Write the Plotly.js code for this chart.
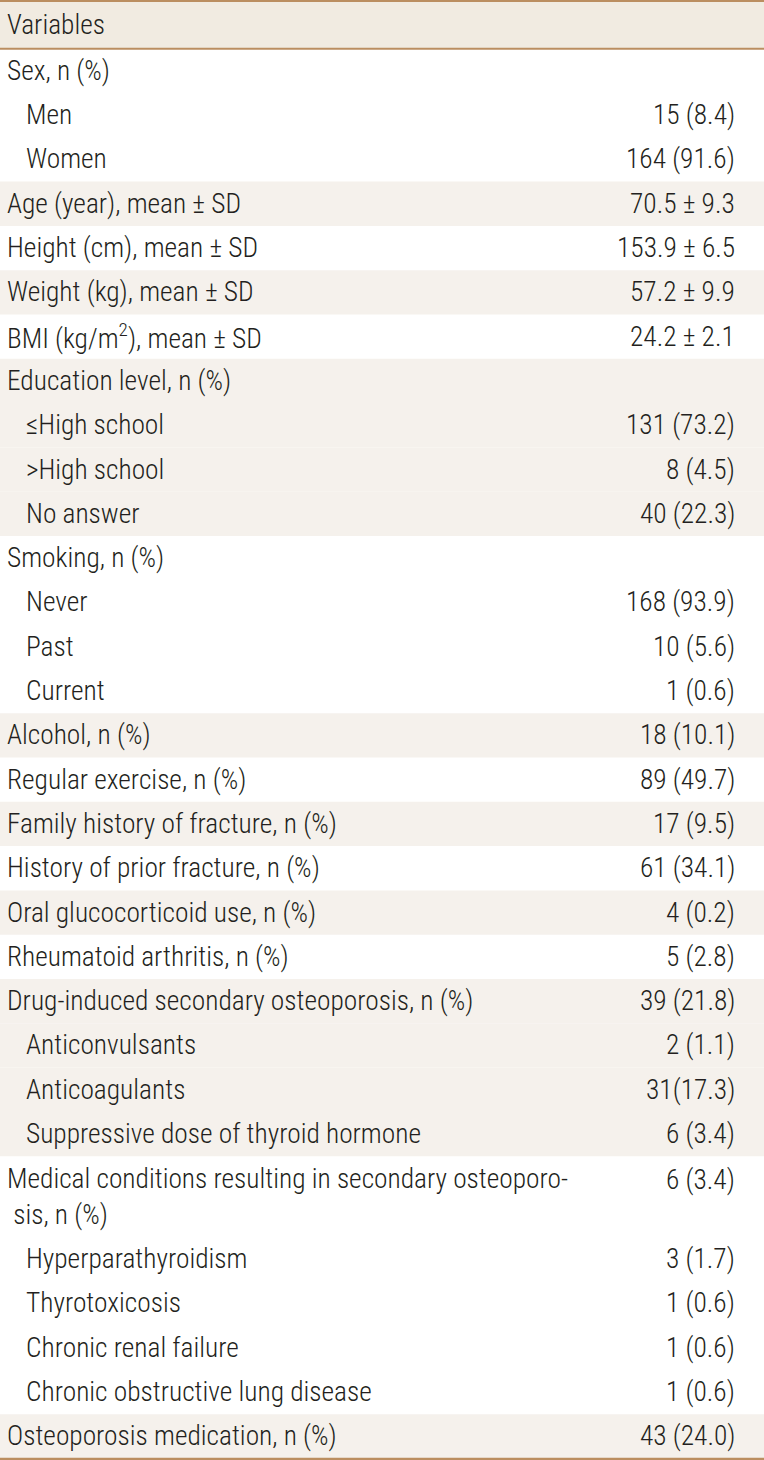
<!DOCTYPE html>
<html>
<head>
<meta charset="utf-8">
<script src="https://cdn.plot.ly/plotly-3.0.1.min.js"></script>
<style>html,body{margin:0;padding:0;background:#fff;}#chart{width:764px;height:1460px;}</style>
</head>
<body>
<div id="chart"></div>
<script>
// ---- data ----
const headerLabel = "Variables";
const labels = [
  "Sex, n (%)", "Men", "Women",
  "Age (year), mean ± SD",
  "Height (cm), mean ± SD",
  "Weight (kg), mean ± SD",
  "BMI (kg/m<sup>2</sup>), mean ± SD",
  "Education level, n (%)", "≤High school", ">High school", "No answer",
  "Smoking, n (%)", "Never", "Past", "Current",
  "Alcohol, n (%)",
  "Regular exercise, n (%)",
  "Family history of fracture, n (%)",
  "History of prior fracture, n (%)",
  "Oral glucocorticoid use, n (%)",
  "Rheumatoid arthritis, n (%)",
  "Drug-induced secondary osteoporosis, n (%)", "Anticonvulsants", "Anticoagulants", "Suppressive dose of thyroid hormone",
  "Medical conditions resulting in secondary osteoporo-<br> sis, n (%)", "Hyperparathyroidism", "Thyrotoxicosis", "Chronic renal failure", "Chronic obstructive lung disease",
  "Osteoporosis medication, n (%)"
];
const values = [
  "", "15 (8.4)", "164 (91.6)",
  "70.5 ± 9.3",
  "153.9 ± 6.5",
  "57.2 ± 9.9",
  "24.2 ± 2.1",
  "", "131 (73.2)", "8 (4.5)", "40 (22.3)",
  "", "168 (93.9)", "10 (5.6)", "1 (0.6)",
  "18 (10.1)",
  "89 (49.7)",
  "17 (9.5)",
  "61 (34.1)",
  "4 (0.2)",
  "5 (2.8)",
  "39 (21.8)", "2 (1.1)", "31(17.3)", "6 (3.4)",
  "6 (3.4)", "3 (1.7)", "1 (0.6)", "1 (0.6)", "1 (0.6)",
  "43 (24.0)"
];
const indentLevel = [
  0,1,1, 0, 0, 0, 0, 0,1,1,1, 0,1,1,1, 0, 0, 0, 0, 0, 0, 0,1,1,1, 0,1,1,1,1, 0
];

// ---- styles ----
const W = 764, H = 1460;
const FONT = 'Roboto Condensed, "Liberation Sans Narrow", "Arial Narrow", "DejaVu Sans Condensed", sans-serif';
const FS = 27.4;
const FW = 300;
const TXT = '#231f20';
const RULE = '#bb8e60';
const HEAD_FILL = '#f1ebe1';
const BAND_FILL = '#f5f1ec';
const headerTop = 1.5, headerBottom = 48.7;
const rowH = 44.3, extraLine = 36.5, lineGap = 33;
const xLabel = 5, xIndent = 19, xValue = 737;

const shapes = [];
const annotations = [];
const font = {family:FONT, size:FS, color:TXT, weight:FW};

// header
shapes.push({type:'rect', xref:'x', yref:'y', x0:0, x1:W, y0:headerTop, y1:headerBottom, fillcolor:HEAD_FILL, line:{width:0}, layer:'below'});
annotations.push({x:xLabel, y:(headerTop+headerBottom)/2, xref:'x', yref:'y', text:headerLabel, showarrow:false, xanchor:'left', yanchor:'middle', font:font});

let y = headerBottom;
let group = -1;
for (let i = 0; i < labels.length; i++) {
  if (indentLevel[i] === 0) group++;
  const nLines = labels[i].split('<br>').length;
  const h = rowH + (nLines - 1) * extraLine;
  if (group % 2 === 1) {
    shapes.push({type:'rect', xref:'x', yref:'y', x0:0, x1:W, y0:y, y1:y+h, fillcolor:BAND_FILL, line:{width:0}, layer:'below'});
  }
  const cy = y + h / 2;
  annotations.push({x:xLabel + indentLevel[i]*xIndent, y:cy, xref:'x', yref:'y', text:labels[i], showarrow:false, xanchor:'left', yanchor:'middle', align:'left', font:font});
  if (values[i] !== "") {
    const vy = cy - (nLines - 1) * lineGap / 2;
    annotations.push({x:xValue, y:vy, xref:'x', yref:'y', text:values[i], showarrow:false, xanchor:'right', yanchor:'middle', font:font});
  }
  y += h;
}
const tableBottom = y;

// rules
shapes.push({type:'line', xref:'x', yref:'y', x0:0, x1:W, y0:1, y1:1, line:{color:RULE, width:2}});
shapes.push({type:'line', xref:'x', yref:'y', x0:0, x1:W, y0:headerBottom, y1:headerBottom, line:{color:RULE, width:2}});
shapes.push({type:'line', xref:'x', yref:'y', x0:0, x1:W, y0:tableBottom+0.5, y1:tableBottom+0.5, line:{color:RULE, width:2.5}});

const layout = {
  width: W, height: H,
  margin: {l:0, r:0, t:0, b:0, pad:0},
  paper_bgcolor: '#ffffff', plot_bgcolor: '#ffffff',
  xaxis: {range:[0, W], visible:false, fixedrange:true},
  yaxis: {range:[H, 0], visible:false, fixedrange:true},
  showlegend: false,
  shapes: shapes,
  annotations: annotations
};
Plotly.newPlot('chart', [], layout, {staticPlot:true, displayModeBar:false});
</script>
</body>
</html>
